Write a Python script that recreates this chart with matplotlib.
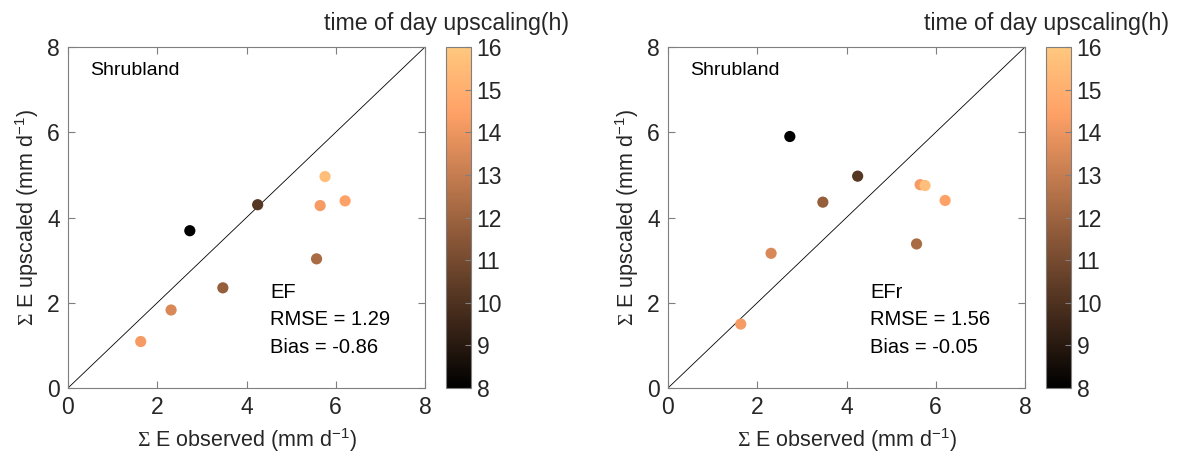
import matplotlib
matplotlib.use("Agg")
import matplotlib.pyplot as plt
import numpy as np

plt.rcParams['font.family'] = ['Liberation Sans', 'DejaVu Sans']
plt.rcParams['mathtext.fontset'] = 'custom'
plt.rcParams['mathtext.rm'] = 'Liberation Sans'
plt.rcParams['mathtext.it'] = 'Liberation Sans:italic'
plt.rcParams['mathtext.bf'] = 'Liberation Serif'

# data
observed = [1.63, 2.31, 2.73, 3.47, 4.25, 5.57, 5.65, 5.76, 6.21]
upscaled_ef = [1.09, 1.83, 3.69, 2.35, 4.30, 3.03, 4.28, 4.96, 4.39]
upscaled_efr = [1.50, 3.16, 5.90, 4.36, 4.97, 3.38, 4.77, 4.75, 4.40]
hours = [14.2, 13.5, 8.0, 11.8, 10.2, 12.3, 14.2, 15.6, 14.5]
methods = ["EF", "EFr"]
rmse = [1.29, 1.56]
bias = [-0.86, -0.05]
site = "Shrubland"
cbar_ticks = [8, 9, 10, 11, 12, 13, 14, 15, 16]
axis_ticks = [0, 2, 4, 6, 8]

W, H = 1179, 465
fig = plt.figure(figsize=(W / 100, H / 100), dpi=100)

gray = '#262626'
spine = '#7f7f7f'
fs_tick = 16.5
fs_lab = 15.5

def px(x0, y_top, w, h):
    return [x0 / W, 1 - (y_top + h) / H, w / W, h / H]

sig = r'$\mathbf{\Sigma}$'
panels = [(68, upscaled_ef), (668, upscaled_efr)]
for i, (x0, yv) in enumerate(panels):
    ax = fig.add_axes(px(x0, 47, 357, 341))
    ax.plot([0, 8], [0, 8], color='black', lw=0.6, zorder=1)
    sc = ax.scatter(observed, yv, c=hours, cmap='copper', vmin=8, vmax=16,
                    s=65, edgecolors='none', zorder=3)
    ax.set_xlim(0, 8)
    ax.set_ylim(0, 8)
    ax.set_xticks(axis_ticks)
    ax.set_yticks(axis_ticks)
    ax.tick_params(direction='in', top=True, right=True, length=5,
                   width=0.8, colors=spine, labelcolor=gray, labelsize=fs_tick, pad=6)
    for s in ax.spines.values():
        s.set_color(spine)
        s.set_linewidth(0.8)
    ax.set_xlabel(sig + ' E observed (mm d$^{\\mathregular{-1}}$)', fontsize=fs_lab, color=gray, labelpad=5)
    ax.set_ylabel(sig + ' E upscaled (mm d$^{\\mathregular{-1}}$)', fontsize=fs_lab, color=gray, labelpad=4)
    ax.text(0.5, 7.46, site, fontsize=14, va='center', ha='left', color='black')
    ax.text(4.53, 2.23, methods[i], fontsize=14.5, va='center', ha='left', color='black')
    ax.text(4.53, 1.60, f'RMSE = {rmse[i]:.2f}', fontsize=14.5, va='center', ha='left', color='black')
    ax.text(4.53, 0.96, f'Bias = {bias[i]:.2f}', fontsize=14.5, va='center', ha='left', color='black')

    cax = fig.add_axes(px(x0 + 378, 47, 25, 341))
    cb = fig.colorbar(sc, cax=cax, ticks=cbar_ticks)
    cb.outline.set_edgecolor(spine)
    cb.outline.set_linewidth(0.8)
    cax.tick_params(direction='in', length=4, width=0.8, colors=spine,
                    labelcolor=gray, labelsize=fs_tick, pad=4)
    cax.set_title('time of day upscaling(h)', fontsize=16.7, color=gray, pad=12,
                  loc='center', x=0.5 - 12 / 25)

fig.savefig('out.png', dpi=100)
